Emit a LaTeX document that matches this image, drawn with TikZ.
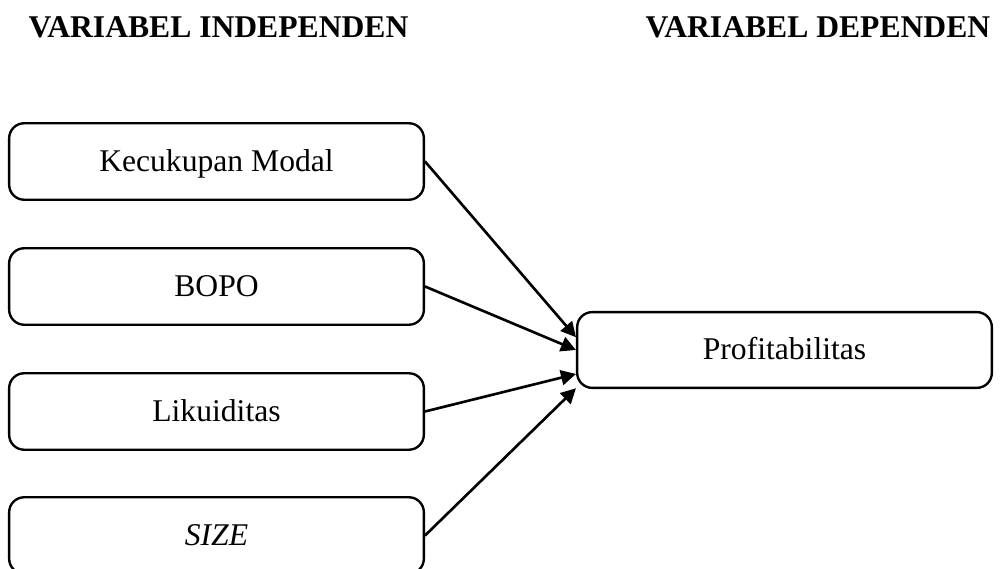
\documentclass[tikz,border=0pt]{standalone}
\usepackage{fontspec}
\setmainfont{Liberation Serif}
\usetikzlibrary{arrows.meta}

\tikzset{
  varbox/.style={draw,line width=0.9pt,rounded corners=2mm,minimum width=5.53cm,minimum height=1.02cm,text height=1.9ex,text depth=.25ex},
  judul/.style={anchor=base west,inner sep=0pt,font=\fontsize{12}{14}\selectfont\bfseries}
}

\begin{document}
\begin{tikzpicture}[x=0.01333cm,y=-0.01333cm,>={Triangle[length=2mm,width=2mm]},font=\fontsize{12}{14}\selectfont,line cap=round]
\useasboundingbox (0,0) rectangle (1000,569);
\node[judul] (indep) at (28,38) {VARIABEL INDEPENDEN};
\node[judul] (dep) at (645,38) {VARIABEL DEPENDEN};
\node[varbox] (modal) at (216.5,161.5) {Kecukupan Modal};
\node[varbox] (bopo) at (216.5,286.5) {BOPO};
\node[varbox] (likuid) at (216.5,411.5) {Likuiditas};
\node[varbox] (size) at (216.5,535.5) {\itshape SIZE};
\node[varbox,minimum height=1.01cm] (profit) at (784.5,350) {Profitabilitas};
\draw[->,line width=1pt] (modal.east) -- ([yshift=0.17cm]profit.west);
\draw[->,line width=1pt] (bopo.east) -- (profit.west);
\draw[->,line width=1pt] (likuid.east) -- ([yshift=-0.32cm]profit.west);
\draw[->,line width=1pt] (size.east) -- ([yshift=-0.51cm]profit.west);
\end{tikzpicture}
\end{document}
